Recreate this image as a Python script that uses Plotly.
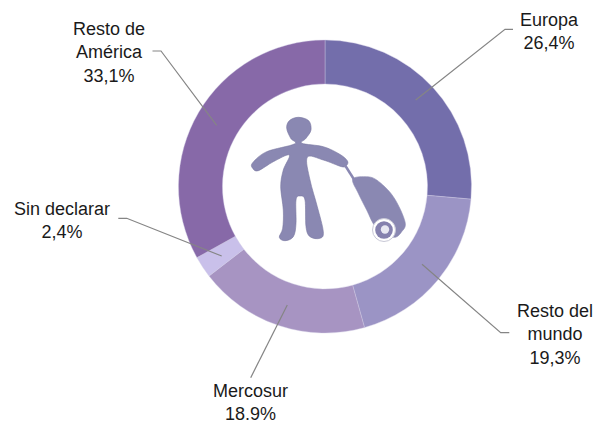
import plotly.graph_objects as go

# ---- data ----
categories = ["Europa", "Resto del mundo", "Mercosur", "Sin declarar", "Resto de América"]
values = [26.4, 19.3, 18.9, 2.4, 33.1]
slice_colors = ["#736EAB", "#9B94C5", "#A794C2", "#C9C0EA", "#8769A8"]
label_texts = ["Europa<br>26,4%", "Resto del<br>mundo<br>19,3%", "Mercosur<br>18.9%",
               "Sin declarar<br>2,4%", "Resto de<br>América<br>33,1%"]

# ---- layout geometry (pixels in the 597x421 page) ----
W, H = 597, 421
CX, CY, R = 325, 186.5, 146.5
label_pos = [(549, 31), (555, 334), (250, 402.5), (62, 220), (109, 52)]
leaders = [
    [(513, 29.3), (505, 29.3), (415.7, 100)],
    [(422, 264.3), (500.7, 332.7), (509.3, 332.7)],
    [(287.3, 305), (250.7, 377.7)],
    [(221.7, 256), (126.7, 218.3), (118.3, 218.3)],
    [(152.5, 51), (161, 51), (216.7, 125.3)],
]

person = [(205,52),(236,62),(243,90),(228,115),(216,130),(280,140),(328,162),(352,182),(350,196),
          (335,200),(280,180),(232,172),(240,240),(262,320),(280,395),(270,415),(240,410),(228,380),
          (225,300),(210,288),(198,300),(198,370),(190,410),(165,422),(148,412),(158,385),(160,330),
          (152,260),(160,210),(178,165),(130,185),(85,212),(68,205),(68,188),(110,155),(193,132),
          (182,115),(170,85),(178,62)]
case = [(368,238),(405,230),(440,240),(490,290),(525,365),(515,395),(490,412),(440,385),(410,330),(385,280)]


def to_px(p):
    return 230 + p[0] / 3, 100 + p[1] / 3


def smooth(points):
    pts = [to_px(p) for p in points]
    n = len(pts)
    d = f"M{pts[0][0]:.1f},{pts[0][1]:.1f}"
    for i in range(n):
        p0, p1, p2, p3 = pts[i - 1], pts[i], pts[(i + 1) % n], pts[(i + 2) % n]
        c1 = (p1[0] + (p2[0] - p0[0]) / 6, p1[1] + (p2[1] - p0[1]) / 6)
        c2 = (p2[0] - (p3[0] - p1[0]) / 6, p2[1] - (p3[1] - p1[1]) / 6)
        d += f" C{c1[0]:.1f},{c1[1]:.1f} {c2[0]:.1f},{c2[1]:.1f} {p2[0]:.1f},{p2[1]:.1f}"
    return d + " Z"


def circle(cx, cy, r, fill, line=None, lw=0):
    return dict(type="circle", xref="x", yref="y", x0=cx - r, x1=cx + r, y0=cy - r, y1=cy + r,
                fillcolor=fill, line=dict(color=line or fill, width=lw), layer="above")


ICON = "#8A88B2"
shapes = []
for pts in leaders:
    d = "M" + " L".join(f"{x},{y}" for x, y in pts)
    shapes.append(dict(type="path", xref="x", yref="y", path=d,
                       line=dict(color="#858585", width=1.2), layer="above"))
shapes += [
    dict(type="path", xref="x", yref="y", path=smooth(person), fillcolor=ICON,
         line=dict(color="#77759F", width=0.6), layer="above"),
    dict(type="line", xref="x", yref="y", x0=345.5, y0=166, x1=355, y1=181,
         line=dict(color=ICON, width=2.5), layer="above"),
    dict(type="path", xref="x", yref="y", path=smooth(case), fillcolor=ICON,
         line=dict(color=ICON, width=0.6), layer="above"),
    circle(384, 230, 11.5, "#FFFFFF", "#C8C8D6", 1),
    circle(384, 230, 8.8, "#8581AE"),
    circle(385, 229.5, 4.2, "#E8E8F2"),
]

annotations = [
    dict(x=x, y=y, xref="x", yref="y", text=t, showarrow=False, xanchor="center", yanchor="middle",
         align="center", font=dict(family="Liberation Sans", size=18, color="#1A1A1A"))
    for t, (x, y) in zip(label_texts, label_pos)
]

fig = go.Figure(go.Pie(
    labels=categories, values=values, sort=False, direction="clockwise", rotation=0, hole=0.7,
    textinfo="none", showlegend=False,
    marker=dict(colors=slice_colors, line=dict(color="#CFCBE3", width=0.4)),
    domain=dict(x=[(CX - R) / W, (CX + R) / W], y=[1 - (CY + R) / H, 1 - (CY - R) / H]),
))
fig.update_layout(
    width=W, height=H, margin=dict(l=0, r=0, t=0, b=0),
    paper_bgcolor="white", plot_bgcolor="rgba(0,0,0,0)",
    xaxis=dict(range=[0, W], visible=False, fixedrange=True),
    yaxis=dict(range=[H, 0], visible=False, fixedrange=True),
    shapes=shapes, annotations=annotations,
)
fig.write_html("out.html", config=dict(displayModeBar=False),
               post_script="document.body.style.margin='0';document.body.style.overflow='hidden';")
